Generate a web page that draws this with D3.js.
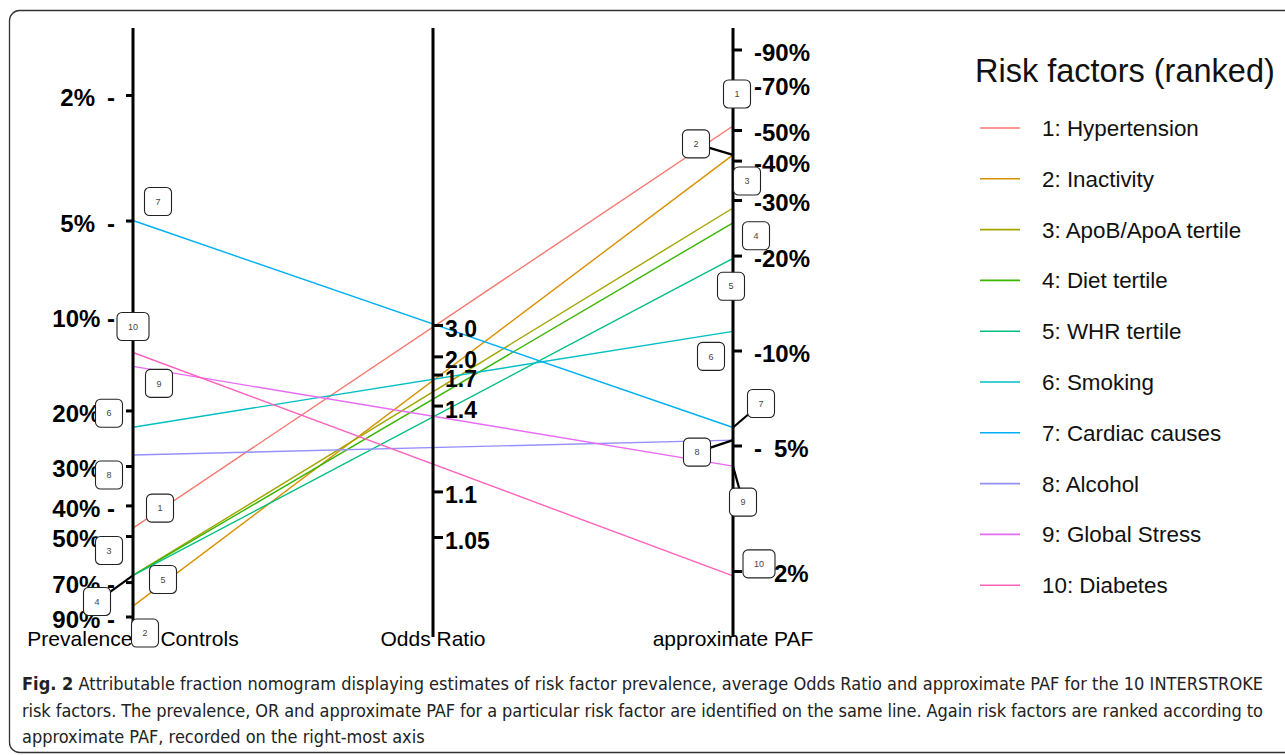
<!DOCTYPE html>
<html lang="en">
<head>
<meta charset="UTF-8">
<title>nomogram</title>
<script src="https://cdn.jsdelivr.net/npm/d3@7"></script>
<style>
  body { margin: 0; background: #fff; }
  svg { display: block; }
  .axis text { font: bold 24px "Liberation Sans", Arial, sans-serif; fill: #000; }
  .axis line { stroke: #000; stroke-width: 3px; }
  .axis .domain { display: none; }
  .axis-title { font: 21px "Liberation Sans", Arial, sans-serif; text-anchor: middle; fill: #000; }
  .legend-title { font: 32.5px "Liberation Sans", Arial, sans-serif; fill: #111; }
  .legend-item { font: 22.4px "Liberation Sans", Arial, sans-serif; fill: #111; }
  .tag rect { fill: #fff; stroke: #222; stroke-width: 1.1px; }
  .tag text { font: 9px "Liberation Sans", Arial, sans-serif; fill: #444; text-anchor: middle; }
  .caption { font: 18px "Liberation Sans Narrow", "DejaVu Sans Condensed", sans-serif; fill: #222; }
</style>
</head>
<body>
<div class="content"></div>
<script>
// values
var factors = ["Hypertension", "Inactivity", "ApoB/ApoA tertile", "Diet tertile", "WHR tertile",
               "Smoking", "Cardiac causes", "Alcohol", "Global Stress", "Diabetes"];
var prevalence = [0.472, 0.834, 0.667, 0.667, 0.667, 0.226, 0.05, 0.277, 0.145, 0.131];
var paf = [0.515, 0.417, 0.283, 0.254, 0.196, 0.115, 0.057, 0.052, 0.043, 0.0193];
var colors = ["#F8766D", "#D89000", "#A3A500", "#39B600", "#00BF7D",
              "#00BFC4", "#00B0F6", "#9590FF", "#E76BF3", "#FF62BC"];

var prevTicks = [0.02, 0.05, 0.1, 0.2, 0.3, 0.4, 0.5, 0.7, 0.9];
var orTicks = [1.05, 1.1, 1.4, 1.7, 2.0, 3.0];
var orLabels = ["1.05", "1.1", "1.4", "1.7", "2.0", "3.0"];
var pafTicks = [0.02, 0.05, 0.1, 0.2, 0.3, 0.4, 0.5, 0.7, 0.9];
var axisNames = ["Prevalence in Controls", "Odds Ratio", "approximate PAF"];

// label box nudges (repel layout), relative to line ends
var leftNudge = [[27,-20],[12,27],[-24,-25],[-36,26],[30,4],[-24,-14],[25,-19],[-24,20],[26,17],[0,-26]];
var rightNudge = [[4,-32],[-37,-11],[14,-27],[23,13],[-2,28],[-22,25],[28,-24],[-36,12],[10,36],[26,-12]];
var leftSeg = [false,false,false,true,false,false,false,false,false,false];
var rightSeg = [false,true,false,false,false,false,true,true,true,false];

var width = 1285, height = 755;

var svg = d3.select(".content").append("svg")
   .attr("width", width)
   .attr("height", height);

// frame
svg.append("rect")
   .attr("x", 9.5).attr("y", 10.5)
   .attr("width", 1330).attr("height", 742)
   .attr("rx", 10)
   .attr("fill", "none")
   .attr("stroke", "#333")
   .attr("stroke-width", 1.3);

var x = d3.scalePoint().domain(axisNames).range([133, 733]);
var yPrev = d3.scaleLog().domain([0.02, 0.9]).range([95, 616.5]);
var yPaf = d3.scaleLog().domain([0.02, 0.9]).range([571, 49.5]);
var yOr = d3.scaleLog().domain([Math.log(1.05), Math.log(3)]).range([537, 325]);

var data = factors.map(function (f, i) {
   return { rank: i + 1, name: f, prev: prevalence[i], paf: paf[i], color: colors[i] };
});

// risk factor lines
svg.append("g").selectAll("line")
   .data(data)
   .enter().append("line")
   .attr("x1", x(axisNames[0]))
   .attr("y1", function (d) { return yPrev(d.prev); })
   .attr("x2", x(axisNames[2]))
   .attr("y2", function (d) { return yPaf(d.paf); })
   .attr("stroke", function (d) { return d.color; })
   .attr("stroke-width", 1.4);

// axis spines
svg.append("g").selectAll("line")
   .data(axisNames)
   .enter().append("line")
   .attr("x1", function (d) { return x(d); })
   .attr("x2", function (d) { return x(d); })
   .attr("y1", 28).attr("y2", 637)
   .attr("stroke", "#000")
   .attr("stroke-width", 3);

var gLeft = svg.append("g")
   .attr("class", "axis")
   .attr("transform", "translate(" + x(axisNames[0]) + ",0)")
   .call(d3.axisLeft(yPrev).tickValues(prevTicks).tickSize(7).tickPadding(11).tickSizeOuter(0)
      .tickFormat(function (d) { return Math.round(d * 100) + "%" + (d < 0.1 ? "\u2002-" : " -"); }));
gLeft.selectAll("text").attr("dy", "0.45em");

var gMid = svg.append("g")
   .attr("class", "axis")
   .attr("transform", "translate(" + x(axisNames[1]) + ",0)")
   .call(d3.axisRight(yOr).tickValues(orTicks.map(Math.log)).tickSize(10).tickPadding(2).tickSizeOuter(0)
      .tickFormat(function (d, i) { return orLabels[i]; }));
gMid.selectAll("text").attr("dy", "0.5em").style("font-size", "23px");

var gRight = svg.append("g")
   .attr("class", "axis")
   .attr("transform", "translate(" + x(axisNames[2]) + ",0)")
   .call(d3.axisRight(yPaf).tickValues(pafTicks).tickSize(9).tickPadding(12).tickSizeOuter(0)
      .tickFormat(function (d) { return (d < 0.1 ? "-\u2002" : "-") + Math.round(d * 100) + "%"; }));
gRight.selectAll("text").attr("dy", "0.45em");

// axis titles
svg.append("g").selectAll("text")
   .data(axisNames)
   .enter().append("text")
   .attr("class", "axis-title")
   .attr("x", function (d) { return x(d); })
   .attr("y", 646)
   .text(function (d) { return d; });

// repel-style labels
function addTags(side) {
   var ax = side === "left" ? axisNames[0] : axisNames[2];
   var nudge = side === "left" ? leftNudge : rightNudge;
   var seg = side === "left" ? leftSeg : rightSeg;
   var pts = data.map(function (d, i) {
      var px = x(ax), py = side === "left" ? yPrev(d.prev) : yPaf(d.paf);
      return { d: d, px: px, py: py, cx: px + nudge[i][0], cy: py + nudge[i][1], seg: seg[i] };
   });
   var g = svg.append("g");
   g.selectAll("line")
      .data(pts.filter(function (p) { return p.seg; }))
      .enter().append("line")
      .attr("x1", function (p) { return p.px; })
      .attr("y1", function (p) { return p.py; })
      .attr("x2", function (p) { return p.cx; })
      .attr("y2", function (p) { return p.cy; })
      .attr("stroke", "#000")
      .attr("stroke-width", 2.2);
   var tag = g.selectAll(".tag")
      .data(pts)
      .enter().append("g")
      .attr("class", "tag")
      .attr("transform", function (p) { return "translate(" + p.cx + "," + p.cy + ")"; });
   tag.append("rect")
      .attr("x", function (p) { return p.d.rank > 9 ? -16 : -13.5; })
      .attr("y", -14)
      .attr("width", function (p) { return p.d.rank > 9 ? 32 : 27; })
      .attr("height", 28)
      .attr("rx", 5);
   tag.append("text")
      .attr("dy", "0.35em")
      .text(function (p) { return p.d.rank; });
}
addTags("left");
addTags("right");

// legend
var legend = svg.append("g").attr("transform", "translate(975,0)");
legend.append("text")
   .attr("class", "legend-title")
   .attr("x", 0).attr("y", 82)
   .text("Risk factors (ranked)");
var item = legend.selectAll(".item")
   .data(data)
   .enter().append("g")
   .attr("class", "item")
   .attr("transform", function (d, i) { return "translate(0," + (128 + i * 50.8) + ")"; });
item.append("line")
   .attr("x1", 5).attr("x2", 45)
   .attr("stroke", function (d) { return d.color; })
   .attr("stroke-width", 1.6);
item.append("text")
   .attr("class", "legend-item")
   .attr("x", 67).attr("dy", "0.36em")
   .text(function (d) { return d.rank + ": " + d.name; });

// caption
var captionLines = [
   ["Fig. 2", " Attributable fraction nomogram displaying estimates of risk factor prevalence, average Odds Ratio and approximate PAF for the 10 INTERSTROKE"],
   ["", "risk factors. The prevalence, OR and approximate PAF for a particular risk factor are identified on the same line. Again risk factors are ranked according to"],
   ["", "approximate PAF, recorded on the right-most axis"]
];
captionLines.forEach(function (l, i) {
   var t = svg.append("text")
      .attr("class", "caption")
      .attr("x", 22)
      .attr("y", 690 + i * 26.5);
   if (l[0]) t.append("tspan").style("font-weight", "bold").text(l[0]);
   t.append("tspan").text(l[1]);
   if (i < 2) t.attr("textLength", 1241).attr("lengthAdjust", "spacing");
});
</script>
</body>
</html>
